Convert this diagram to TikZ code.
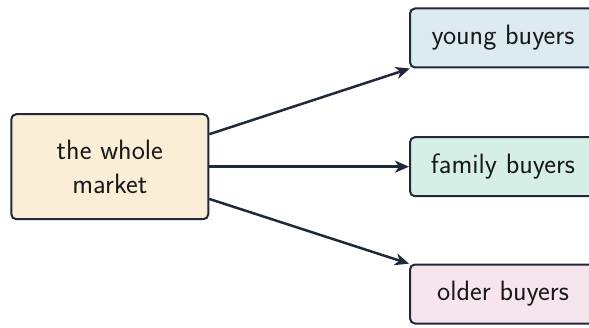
\documentclass[tikz,border=0pt]{standalone}
\usetikzlibrary{arrows.meta}
\definecolor{edgec}{HTML}{1F2937}
\definecolor{fillwhole}{HTML}{FBEED6}
\definecolor{fillyoung}{HTML}{DCEAF2}
\definecolor{fillfamily}{HTML}{D6EFE6}
\definecolor{fillolder}{HTML}{F6E5EC}
\tikzset{
  box/.style={draw=edgec, line width=2pt, rounded corners=5pt, align=center,
    font=\sffamily\fontsize{28}{33.5}\selectfont, text=black!90, inner sep=0pt},
  conn/.style={draw=edgec, line width=2.5pt, -{Stealth[length=14pt,width=12pt,inset=4pt]}}
}
\begin{document}
\begin{tikzpicture}[x=1pt,y=1pt]
\useasboundingbox (0,0) rectangle (589,327);
\node[box, fill=fillwhole, minimum width=197pt, minimum height=105pt] (whole) at (109.8,160.3) {the whole\\market};
\node[box, fill=fillyoung, minimum width=186pt, minimum height=59pt] (young) at (503,289) {young buyers};
\node[box, fill=fillfamily, minimum width=186pt, minimum height=59pt] (family) at (503,160.3) {family buyers};
\node[box, fill=fillolder, minimum width=186pt, minimum height=59pt] (older) at (503,33) {older buyers};
\draw[conn] (whole) -- (young);
\draw[conn] (whole) -- (family);
\draw[conn] (whole) -- (older);
\end{tikzpicture}
\end{document}
